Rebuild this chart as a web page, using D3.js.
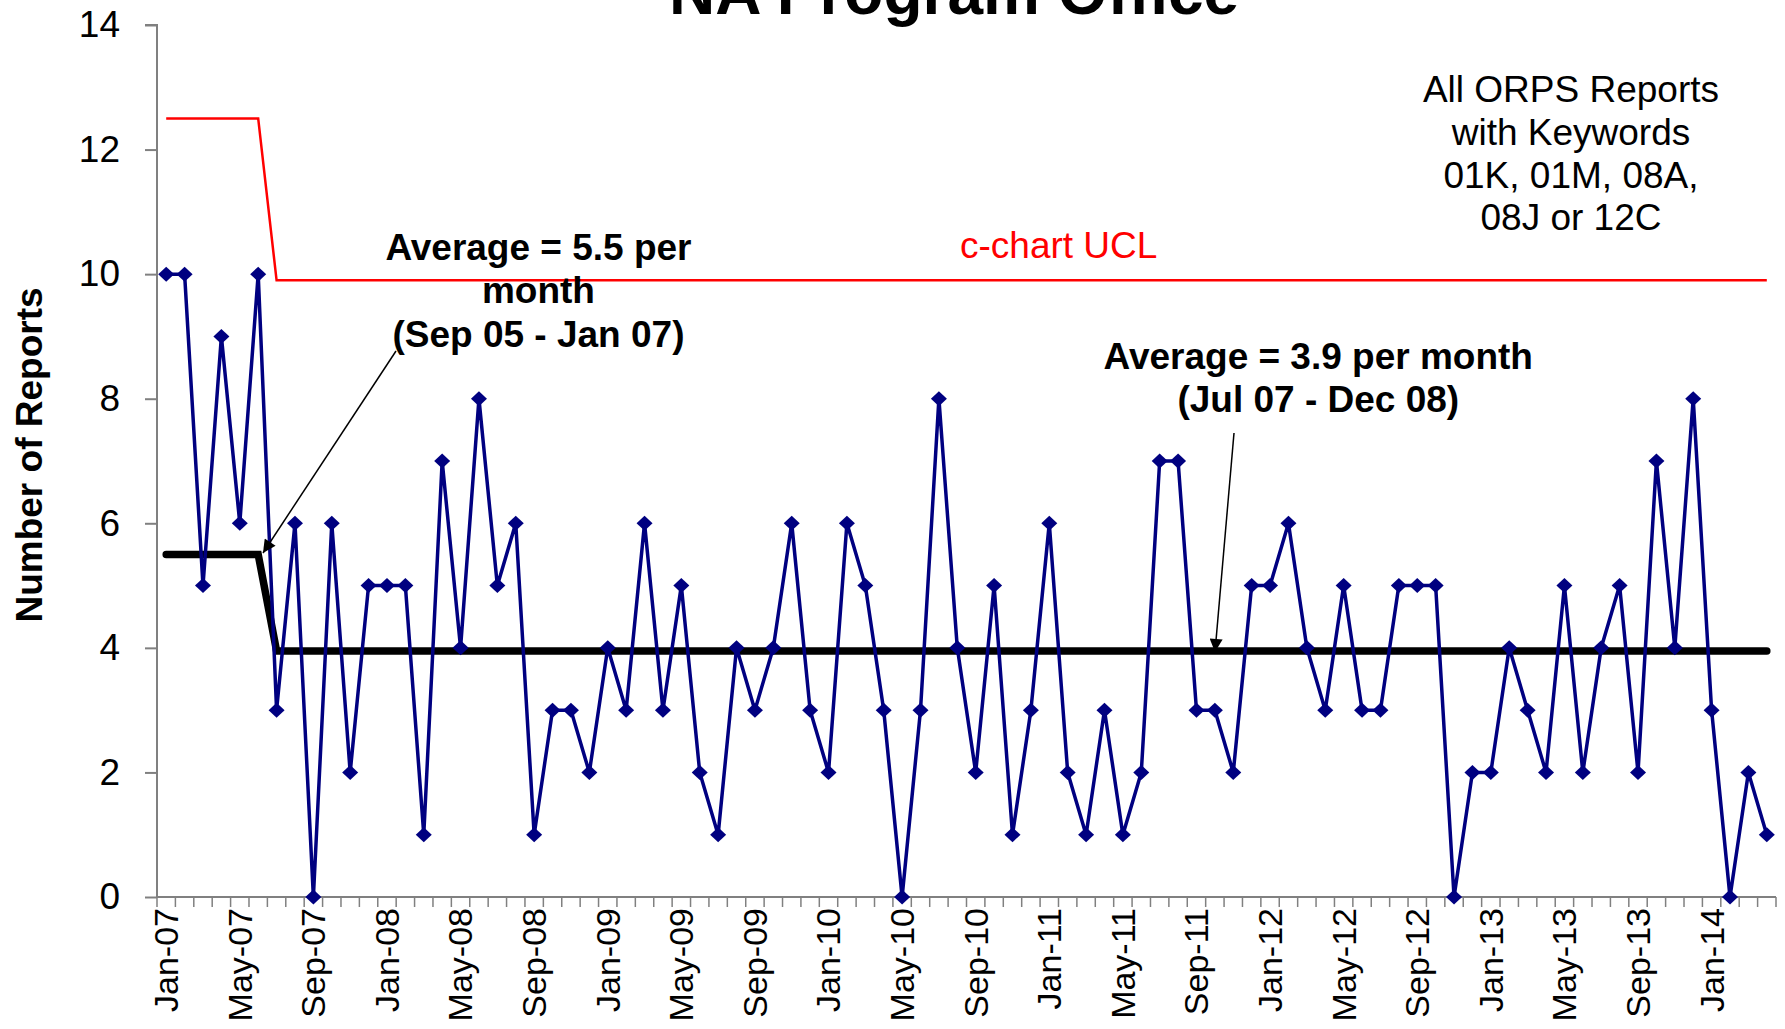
<!DOCTYPE html>
<html>
<head>
<meta charset="utf-8">
<script src="https://cdn.jsdelivr.net/npm/d3@7"></script>
<style>
  html, body { margin: 0; padding: 0; background: #fff; }
  svg { display: block; font-family: Arial, "Liberation Sans", sans-serif; }
</style>
</head>
<body>
<svg id="chart" width="1785" height="1029"></svg>
<script>
// ---------- DATA ----------
const categories = [
  "Jan-07","Feb-07","Mar-07","Apr-07","May-07","Jun-07","Jul-07","Aug-07","Sep-07","Oct-07","Nov-07","Dec-07",
  "Jan-08","Feb-08","Mar-08","Apr-08","May-08","Jun-08","Jul-08","Aug-08","Sep-08","Oct-08","Nov-08","Dec-08",
  "Jan-09","Feb-09","Mar-09","Apr-09","May-09","Jun-09","Jul-09","Aug-09","Sep-09","Oct-09","Nov-09","Dec-09",
  "Jan-10","Feb-10","Mar-10","Apr-10","May-10","Jun-10","Jul-10","Aug-10","Sep-10","Oct-10","Nov-10","Dec-10",
  "Jan-11","Feb-11","Mar-11","Apr-11","May-11","Jun-11","Jul-11","Aug-11","Sep-11","Oct-11","Nov-11","Dec-11",
  "Jan-12","Feb-12","Mar-12","Apr-12","May-12","Jun-12","Jul-12","Aug-12","Sep-12","Oct-12","Nov-12","Dec-12",
  "Jan-13","Feb-13","Mar-13","Apr-13","May-13","Jun-13","Jul-13","Aug-13","Sep-13","Oct-13","Nov-13","Dec-13",
  "Jan-14","Feb-14","Mar-14","Apr-14"
];

const reports = [
  10,10,5,9,6,10,3,6,0,6,2,5,
  5,5,1,7,4,8,5,6,1,3,3,2,
  4,3,6,3,5,2,1,4,3,4,6,3,
  2,6,5,3,0,3,8,4,2,5,1,3,
  6,2,1,3,1,2,7,7,3,3,2,5,
  5,6,4,3,5,3,3,5,5,5,0,2,
  2,4,3,2,5,2,4,5,2,7,4,8,
  3,0,2,1
];

// c-chart UCL (step change after Jun-07)
const uclMonths = ["Jan-07","Jun-07","Jul-07","Apr-14"];
const uclValues = [12.5, 12.5, 9.9, 9.9];

// Average (centre) line
const avgMonths = ["Jan-07","Jun-07","Jul-07","Apr-14"];
const avgValues = [5.5, 5.5, 3.95, 3.95];

const yTicks = [0, 2, 4, 6, 8, 10, 12, 14];
const xTickLabels = [
  "Jan-07","May-07","Sep-07","Jan-08","May-08","Sep-08","Jan-09","May-09","Sep-09",
  "Jan-10","May-10","Sep-10","Jan-11","May-11","Sep-11","Jan-12","May-12","Sep-12",
  "Jan-13","May-13","Sep-13","Jan-14"
];

const titleText = "NA Program Office";
const yTitle = "Number of Reports";
const avg1Lines = ["Average = 5.5 per", "month", "(Sep 05 - Jan 07)"];
const avg2Lines = ["Average = 3.9 per month", "(Jul 07 - Dec 08)"];
const uclLabel = "c-chart UCL";
const keywordLines = ["All ORPS Reports", "with Keywords", "01K, 01M, 08A,", "08J or 12C"];

// ---------- LAYOUT ----------
const plot = { left: 157, right: 1776, top: 25, bottom: 897 };
const svg = d3.select("#chart");
const FS = 37;
const FSX = 34;

const x = d3.scaleBand().domain(categories).range([plot.left, plot.right]).paddingInner(0).paddingOuter(0);
const cx = c => x(c) + x.bandwidth() / 2;
const y = d3.scaleLinear().domain([0, 14]).range([plot.bottom, plot.top]);

const axisColor = "#808080";
const navy = "#000080";

// defs: arrowhead
svg.append("defs").append("marker")
  .attr("id", "arrow")
  .attr("viewBox", "0 0 10 10")
  .attr("refX", 10).attr("refY", 5)
  .attr("markerWidth", 15).attr("markerHeight", 13)
  .attr("markerUnits", "userSpaceOnUse")
  .attr("orient", "auto")
  .append("path").attr("d", "M0,0 L10,5 L0,10 Z").attr("fill", "#000");

// Y axis
const yAxis = d3.axisLeft(y).tickValues(yTicks).tickSize(12).tickPadding(25).tickFormat(d3.format("d"));
const yg = svg.append("g").attr("transform", `translate(${plot.left},0)`).call(yAxis);
yg.select(".domain").attr("stroke", axisColor).attr("stroke-width", 2).attr("d", `M-12,${y(14)}H0V${y(0)}`);
yg.selectAll(".tick line").attr("stroke", axisColor).attr("stroke-width", 2);
yg.selectAll(".tick text").attr("font-size", FS).attr("fill", "#000").attr("font-family", "Arial, 'Liberation Sans', sans-serif");

// X axis line and ticks at category boundaries
const boundaries = categories.map(c => x(c)).concat([x.range()[1]]);
const xg = svg.append("g");
xg.append("line")
  .attr("x1", plot.left).attr("x2", plot.right)
  .attr("y1", y(0)).attr("y2", y(0))
  .attr("stroke", axisColor).attr("stroke-width", 2);
xg.selectAll("line.bt").data(boundaries).join("line")
  .attr("class", "bt")
  .attr("x1", d => d).attr("x2", d => d)
  .attr("y1", y(0)).attr("y2", y(0) + 10)
  .attr("stroke", axisColor).attr("stroke-width", 1.5);

// X labels (every 4th month), rotated
xg.selectAll("text.xl").data(xTickLabels).join("text")
  .attr("class", "xl")
  .attr("transform", d => `translate(${cx(d)},${y(0) + 11}) rotate(-90)`)
  .attr("text-anchor", "end")
  .attr("dy", "0.35em")
  .attr("font-size", FSX)
  .attr("fill", "#000")
  .text(d => d);

// Y title
svg.append("text")
  .attr("transform", `translate(42,455) rotate(-90)`)
  .attr("text-anchor", "middle")
  .attr("font-size", FS).attr("font-weight", "bold")
  .text(yTitle);

// Title
svg.append("text")
  .attr("x", 954).attr("y", 14)
  .attr("text-anchor", "middle")
  .attr("font-size", 64).attr("font-weight", "bold")
  .text(titleText);

// UCL line
const uclData = uclMonths.map((m, i) => ({ m, v: uclValues[i] }));
svg.append("path")
  .datum(uclData)
  .attr("fill", "none").attr("stroke", "#ff0000").attr("stroke-width", 2.5)
  .attr("d", d3.line().x(d => cx(d.m)).y(d => y(d.v)));

// Average line
const avgData = avgMonths.map((m, i) => ({ m, v: avgValues[i] }));
svg.append("path")
  .datum(avgData)
  .attr("fill", "none").attr("stroke", "#000").attr("stroke-width", 7.5)
  .attr("stroke-linecap", "round").attr("stroke-linejoin", "miter")
  .attr("d", d3.line().x(d => cx(d.m)).y(d => y(d.v)));

// Data series
const series = categories.map((c, i) => ({ c, v: reports[i] }));
svg.append("path")
  .datum(series)
  .attr("fill", "none").attr("stroke", navy).attr("stroke-width", 3.5)
  .attr("stroke-linejoin", "round")
  .attr("d", d3.line().x(d => cx(d.c)).y(d => y(d.v)));

const hw = 8, hh = 7.5;
svg.selectAll("path.mk").data(series).join("path")
  .attr("class", "mk")
  .attr("fill", navy)
  .attr("d", d => {
    const px = cx(d.c), py = y(d.v);
    return `M${px},${py - hh}L${px + hw},${py}L${px},${py + hh}L${px - hw},${py}Z`;
  });

// Annotations
function multiline(lines, xc, baselines, opts) {
  const t = svg.append("text")
    .attr("text-anchor", "middle")
    .attr("font-size", opts.size)
    .attr("font-weight", opts.weight || "normal")
    .attr("fill", opts.fill || "#000");
  lines.forEach((l, i) => t.append("tspan").attr("x", xc).attr("y", baselines[i]).text(l));
}
multiline(avg1Lines, 473 * 1.1384, [260, 303, 347], { size: FS, weight: "bold" });
multiline(avg2Lines, 1158 * 1.1384, [369, 412], { size: FS, weight: "bold" });
multiline([uclLabel], 930 * 1.1384, [258], { size: FS, fill: "#ff0000" });
multiline(keywordLines, 1380 * 1.1384, [102, 145, 188, 230], { size: FS });

// Arrows
svg.append("line")
  .attr("x1", 396).attr("y1", 351).attr("x2", 263).attr("y2", 553)
  .attr("stroke", "#000").attr("stroke-width", 1.5).attr("marker-end", "url(#arrow)");
svg.append("line")
  .attr("x1", 1234).attr("y1", 433).attr("x2", 1215).attr("y2", 652)
  .attr("stroke", "#000").attr("stroke-width", 1.5).attr("marker-end", "url(#arrow)");
</script>
</body>
</html>
